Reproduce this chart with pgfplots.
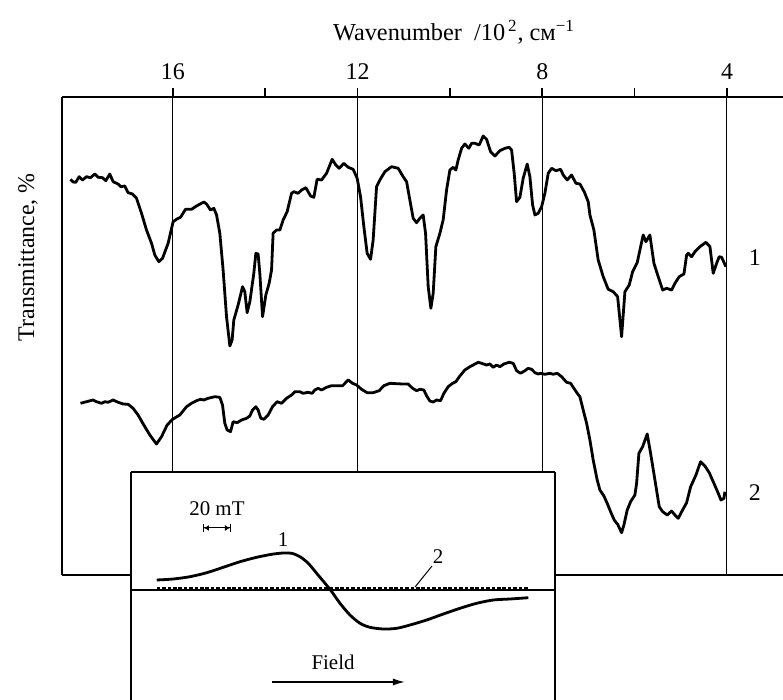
\documentclass[border=0pt]{standalone}
\usepackage{fontspec}
\setmainfont{Liberation Serif}
\usepackage{pgfplots}
\pgfplotsset{compat=1.18}
\usepackage{pgfplotstable}
\usetikzlibrary{arrows.meta}

% IR spectra: wavenumber (10^2 cm^-1) vs transmittance (arbitrary units, curves offset)
\pgfplotstableread{
w T
18.216 395.7
18.159 393.0
18.101 392.7
18.029 398.3
17.956 395.0
17.869 398.3
17.783 397.3
17.689 401.0
17.618 397.7
17.523 397.3
17.451 394.3
17.365 401.0
17.293 393.3
17.185 391.0
17.126 388.3
17.040 389.0
16.968 382.3
16.873 381.0
16.786 376.7
16.678 361.7
16.570 345.0
16.461 331.7
16.390 320.0
16.303 313.3
16.223 316.7
16.102 331.7
15.993 353.3
15.920 355.7
15.833 357.7
15.725 365.7
15.595 365.7
15.487 369.0
15.329 373.0
15.270 371.0
15.184 365.0
15.112 366.7
15.053 360.0
14.982 341.7
14.911 305.0
14.837 258.3
14.765 229.0
14.716 235.0
14.679 255.0
14.586 270.0
14.490 288.3
14.441 283.3
14.391 262.3
14.332 273.3
14.246 301.7
14.202 321.7
14.153 321.0
14.116 301.7
14.057 258.3
13.986 280.0
13.914 291.7
13.862 305.0
13.828 341.7
13.754 345.0
13.682 345.0
13.611 355.0
13.524 363.3
13.429 381.7
13.379 383.3
13.286 381.7
13.212 385.0
13.119 387.3
13.017 379.0
12.946 377.7
12.875 395.7
12.779 395.0
12.671 401.7
12.550 415.7
12.470 410.0
12.398 406.7
12.296 411.7
12.203 407.7
12.095 405.7
12.008 396.7
11.935 378.3
11.863 348.3
11.792 321.7
11.718 315.7
11.662 335.0
11.588 388.3
11.517 395.0
11.408 403.3
11.263 408.3
11.120 406.7
11.012 398.3
10.938 393.3
10.867 375.0
10.795 356.7
10.722 352.3
10.650 356.7
10.579 360.0
10.527 341.7
10.470 288.3
10.412 266.7
10.362 281.7
10.304 328.3
10.217 341.7
10.146 355.0
10.072 385.0
10.000 405.0
9.929 407.7
9.871 405.0
9.821 415.0
9.747 426.7
9.676 431.0
9.589 426.7
9.530 431.7
9.459 431.7
9.366 430.0
9.279 439.0
9.206 435.7
9.119 423.3
9.026 419.0
8.917 424.3
8.809 426.7
8.716 427.7
8.664 425.0
8.608 401.7
8.556 373.3
8.484 377.7
8.413 396.7
8.326 411.0
8.268 398.3
8.209 370.0
8.159 360.0
8.088 361.7
8.014 368.3
7.943 381.7
7.871 401.7
7.798 406.7
7.705 404.3
7.603 405.7
7.546 400.0
7.460 395.0
7.365 400.0
7.271 391.7
7.185 391.0
7.092 383.3
7.005 373.3
6.968 360.0
6.882 345.0
6.789 315.0
6.680 298.3
6.572 285.7
6.463 283.3
6.368 278.3
6.282 238.3
6.210 283.3
6.117 290.0
6.043 303.3
5.944 312.3
5.870 328.3
5.814 340.0
5.755 333.3
5.669 340.0
5.582 311.7
5.489 298.3
5.393 285.0
5.307 286.7
5.199 285.0
5.127 291.7
5.034 298.3
4.932 301.0
4.874 320.0
4.839 321.7
4.765 318.3
4.694 323.3
4.586 328.3
4.456 332.7
4.369 328.3
4.298 301.7
4.224 311.7
4.168 318.3
4.116 317.7
4.023 308.3
}\specA

\pgfplotstableread{
w T
17.999 171.7
17.869 173.3
17.726 175.0
17.653 173.3
17.544 171.7
17.473 173.3
17.401 172.7
17.293 175.0
17.185 172.7
17.076 171.0
16.968 170.7
16.860 166.7
16.752 160.0
16.628 150.0
16.498 140.0
16.353 131.0
16.245 138.3
16.123 150.0
16.006 155.7
15.848 160.0
15.703 168.3
15.595 171.7
15.487 174.3
15.400 175.7
15.329 175.0
15.235 176.7
15.090 178.3
14.982 177.7
14.924 170.0
14.874 151.7
14.824 145.0
14.750 143.3
14.694 153.3
14.607 152.3
14.512 155.0
14.404 156.7
14.332 159.0
14.274 165.0
14.202 168.3
14.153 165.0
14.094 156.7
14.029 155.7
13.936 160.0
13.841 168.3
13.741 173.3
13.646 171.7
13.537 176.7
13.429 180.0
13.358 183.3
13.249 183.3
13.178 181.7
13.070 182.7
12.983 181.7
12.924 185.0
12.853 186.7
12.779 185.0
12.671 187.7
12.563 189.3
12.441 189.3
12.324 189.3
12.203 195.0
12.108 191.7
12.021 190.0
11.913 185.7
11.792 182.3
11.662 182.3
11.532 184.3
11.430 189.3
11.300 191.7
11.155 191.3
11.025 191.0
10.904 191.0
10.808 186.7
10.722 184.3
10.650 185.7
10.564 185.0
10.506 179.3
10.434 174.0
10.362 173.0
10.288 175.0
10.202 174.3
10.130 181.7
10.037 188.3
9.942 191.7
9.871 193.3
9.784 199.0
9.676 205.0
9.567 208.3
9.496 210.0
9.387 212.7
9.314 211.7
9.206 210.0
9.134 211.0
9.062 207.7
8.989 210.0
8.917 208.3
8.831 211.0
8.716 212.7
8.629 211.7
8.556 204.3
8.469 201.7
8.376 204.3
8.304 206.7
8.231 205.7
8.159 202.3
8.088 201.0
8.036 201.7
7.943 200.7
7.835 201.7
7.763 200.7
7.676 201.7
7.581 198.3
7.473 192.7
7.386 191.7
7.315 186.7
7.243 181.7
7.185 178.3
7.113 165.0
7.040 151.7
6.968 135.0
6.897 115.0
6.810 95.0
6.752 85.0
6.665 79.0
6.594 71.7
6.520 63.3
6.442 55.0
6.368 50.7
6.282 42.3
6.232 50.0
6.160 65.0
6.087 73.3
5.994 80.0
5.957 91.7
5.907 121.7
5.827 128.3
5.727 141.0
5.654 121.7
5.560 95.0
5.467 68.3
5.393 63.3
5.294 60.0
5.199 64.0
5.127 60.0
5.056 56.7
4.961 65.0
4.874 72.3
4.787 88.3
4.672 100.0
4.571 113.3
4.478 109.0
4.384 102.3
4.298 93.3
4.189 81.7
4.131 75.0
4.066 76.7
4.045 83.3
}\specB

% EPR derivative signal of sample 1 (field in mT, arbitrary amplitude)
\pgfplotstableread{
B S
18.4 10.0
30.2 11.0
42.1 13.3
54.1 17.3
65.9 22.7
77.9 28.3
89.8 32.7
100.5 35.7
108.8 37.0
114.8 36.7
120.7 33.3
126.6 26.7
132.6 16.7
138.6 6.7
143.4 -1.7
149.3 -13.3
156.4 -25.0
163.6 -33.3
170.7 -37.3
180.2 -39.0
189.8 -38.3
199.3 -35.0
211.2 -30.0
223.1 -24.0
235.0 -18.3
246.9 -13.3
258.8 -10.0
270.7 -9.0
283.8 -7.7
}\eprA

\begin{document}
\begin{tikzpicture}[font=\fontsize{10.5}{12.5}\selectfont]
\path[use as bounding box] (-31bp,-62.5bp) rectangle (360.5bp,287.5bp);
\begin{axis}[
  at={(0,0)}, anchor=south west,
  scale only axis, width=360.5bp, height=239bp,
  x dir=reverse,
  xmin=2.787, xmax=18.4, ymin=0, ymax=478,
  axis x line=box, axis y line*=left,
  x axis line style={-, line width=0.8bp},
  y axis line style={-, line width=0.8bp},
  xtick={4,8,12,16}, minor xtick={6,10,14},
  xtick pos=right, xticklabel pos=right,
  tick align=outside,
  major tick length=4.5bp, minor tick length=4.5bp,
  tick style={black, line width=0.8bp},
  ytick=\empty,
  xmajorgrids, major grid style={black, line width=0.5bp},
  /pgf/number format/assume math mode=true,
  xticklabel style={font=\fontsize{12}{14}\selectfont, yshift=0.5bp},
  clip=false,
]
\addplot[black, line width=1.4bp, line join=round] table {\specA};
\addplot[black, line width=1.4bp, line join=round] table {\specB};
\node[anchor=base, font=\fontsize{12.2}{14}\selectfont] at (axis description cs:0.5437,1.119)
  {Wavenumber~~/10\textsuperscript{\,2}, см\textsuperscript{−1}};
\node[rotate=90, font=\fontsize{12}{14}\selectfont] at (axis description cs:-0.047,0.665) {Transmittance, \%};
\node[font=\fontsize{12}{14}\selectfont] at (axis cs:3.394,317) {1};
\node[font=\fontsize{12}{14}\selectfont] at (axis cs:3.394,82) {2};
\end{axis}

\begin{axis}[
  at={(34.5bp,-62.5bp)}, anchor=south west,
  scale only axis, width=212bp, height=114bp,
  xmin=0, xmax=302.86, ymin=-110, ymax=118,
  axis x line*=top, axis y line*=box,
  x axis line style={-, line width=0.8bp},
  y axis line style={-, line width=0.8bp},
  xtick=\empty, ytick=\empty,
  axis background/.style={fill=white},
  clip=false,
]
\addplot[black, line width=0.8bp] coordinates {(0,0) (302.86,0)};
\addplot[black, line width=1bp, dash pattern=on 1.8bp off 0.9bp] coordinates {(18.4,2) (283.8,2)};
\addplot[black, line width=1.4bp, smooth, tension=0.5] table {\eprA};
\draw[line width=0.5bp, {Bar[width=4bp]Latex[length=2.5bp,width=3bp]}-{Latex[length=2.5bp,width=3bp]Bar[width=4bp]}]
  (axis cs:51.4,62) -- (axis cs:71.4,62);
\node at (axis cs:61.4,81) {20 mT};
\node at (axis cs:108.6,50) {1};
\node at (axis cs:219.3,33) {2};
\draw[line width=0.5bp] (axis cs:215,24) -- (axis cs:202.9,3);
\node at (axis cs:144.3,-72) {Field};
\draw[line width=0.8bp, -{Latex[length=6bp,width=3.5bp]}] (axis cs:100.7,-92) -- (axis cs:195.7,-92);
\end{axis}
\end{tikzpicture}
\end{document}
